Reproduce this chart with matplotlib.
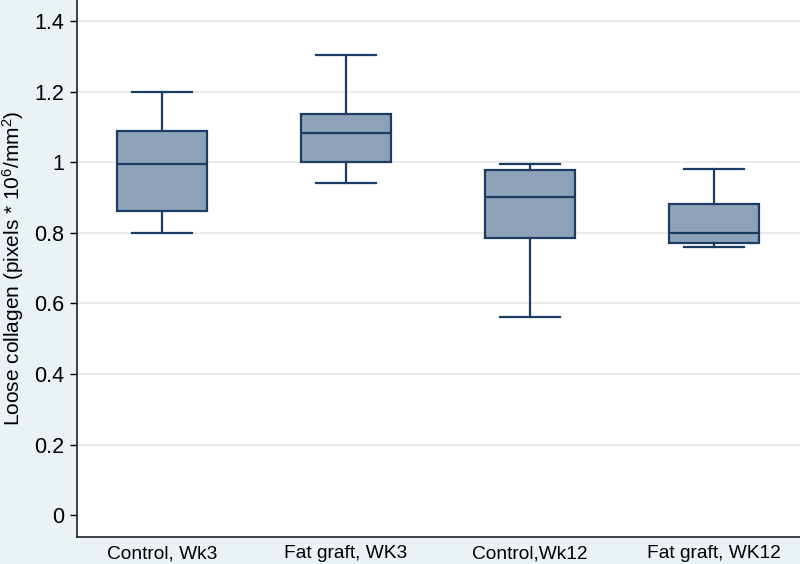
import matplotlib
matplotlib.use("Agg")
import matplotlib.pyplot as plt

plt.rcParams["font.family"] = ["Liberation Sans", "DejaVu Sans"]
plt.rcParams["mathtext.fontset"] = "custom"
plt.rcParams["mathtext.rm"] = "Liberation Sans"
plt.rcParams["mathtext.it"] = "Liberation Sans"

groups = ["Control, Wk3", "Fat graft, WK3", "Control,Wk12", "Fat graft, WK12"]
whis_low = [0.799, 0.942, 0.561, 0.760]
q1 = [0.863, 1.002, 0.785, 0.770]
median = [0.995, 1.082, 0.901, 0.801]
q3 = [1.088, 1.136, 0.978, 0.883]
whis_high = [1.198, 1.305, 0.995, 0.980]

yticks = [0, 0.2, 0.4, 0.6, 0.8, 1.0, 1.2, 1.4]
ytick_labels = ["0", "0.2", "0.4", "0.6", "0.8", "1", "1.2", "1.4"]

edge = "#1c3d63"
fill = "#8ea2b9"
bg = "#eaf2f3"

stats = []
for i in range(len(groups)):
    stats.append({
        "label": groups[i],
        "whislo": whis_low[i],
        "q1": q1[i],
        "med": median[i],
        "q3": q3[i],
        "whishi": whis_high[i],
        "fliers": [],
    })

fig = plt.figure(figsize=(8, 5.64), dpi=100, facecolor=bg)
ax = fig.add_axes([0.09625, 0.0479, 0.90375, 0.9521])
ax.set_facecolor("white")

ax.bxp(
    stats,
    positions=[1, 2, 3, 4],
    widths=0.49,
    capwidths=0.326,
    showfliers=False,
    patch_artist=True,
    boxprops=dict(facecolor=fill, edgecolor=edge, linewidth=1.6),
    medianprops=dict(color=edge, linewidth=1.6),
    whiskerprops=dict(color=edge, linewidth=1.6),
    capprops=dict(color=edge, linewidth=1.6),
    zorder=3,
)

ax.set_xlim(0.538, 4.467)
ax.set_ylim(-0.062, 1.46)
ax.set_yticks(yticks)
ax.set_yticklabels(ytick_labels, fontsize=15.5)
ax.set_xticks([1, 2, 3, 4])
ax.set_xticklabels(groups, fontsize=13.8)
ax.tick_params(axis="x", length=0, pad=6)
ax.tick_params(axis="y", length=5, width=1, pad=4, colors="black")

ax.yaxis.grid(True, color="#e8e8e8", linewidth=1.2)
ax.get_ygridlines()[0].set_visible(False)
ax.set_axisbelow(True)

for side in ["top", "right"]:
    ax.spines[side].set_visible(False)
for side in ["left", "bottom"]:
    ax.spines[side].set_linewidth(1.2)
    ax.spines[side].set_color("#222222")

ax.set_ylabel(r"Loose collagen (pixels * 10$^6$/mm$^2$)", fontsize=15, labelpad=6)

fig.savefig("out.png", dpi=100, facecolor=bg)
